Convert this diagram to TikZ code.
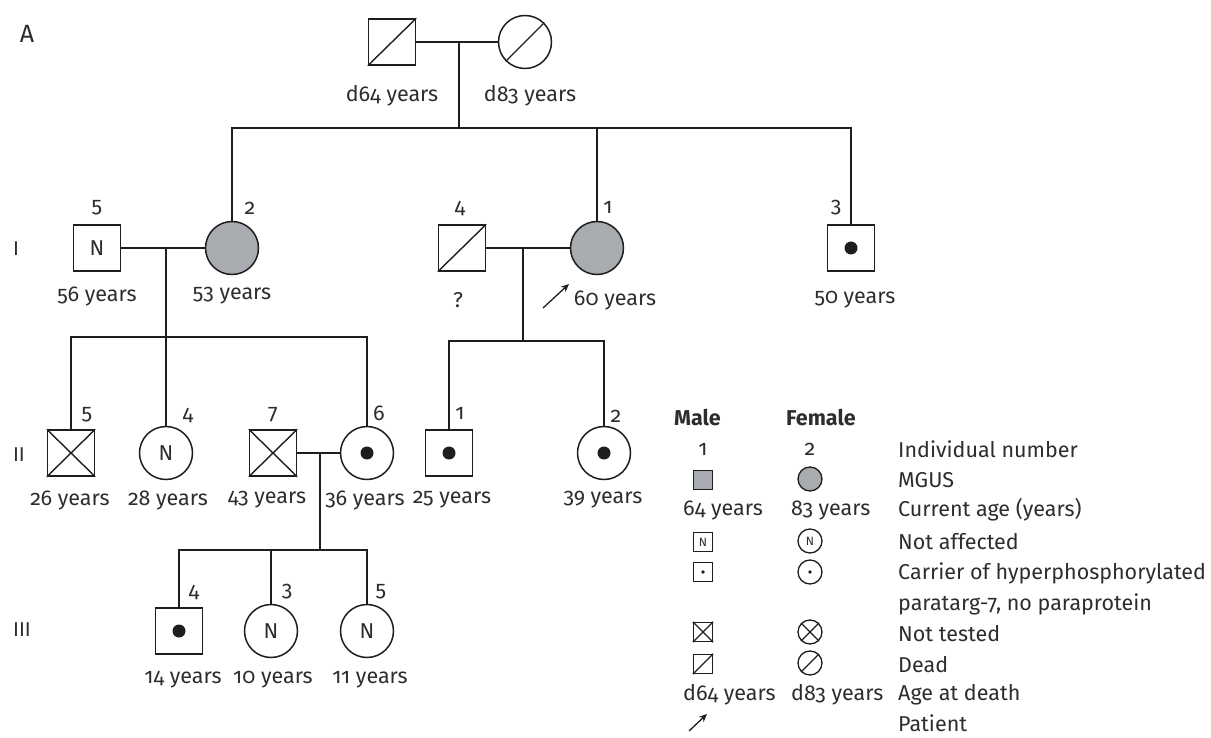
\documentclass[tikz,border=0pt]{standalone}
\usepackage{fontspec}
\setmainfont{Fira Sans}[Numbers=OldStyle]
\usetikzlibrary{arrows.meta}
\definecolor{txt}{RGB}{45,45,45}
\definecolor{ln}{RGB}{30,30,30}
\definecolor{mgus}{RGB}{168,171,175}
\begin{document}
\begin{tikzpicture}[x=1pt,y=-1pt,
  sym/.style={draw=ln, line width=1.5pt, inner sep=0pt, text=txt, font=\fontsize{21.5}{25}\selectfont},
  male/.style={sym, rectangle, minimum width=47pt, minimum height=46pt},
  female/.style={sym, circle, minimum size=53pt},
  affected/.style={fill=mgus},
  lbl/.style={inner sep=0pt, text=txt, font=\fontsize{21.5}{25}\selectfont},
  gen/.style={lbl, font=\fontsize{20}{24}\selectfont},
  conn/.style={draw=ln, line width=1.4pt},
  lsq/.style={draw=ln, line width=1.3pt, rectangle, minimum size=19pt, inner sep=0pt, text=txt, font=\fontsize{12}{14}\selectfont},
  lci/.style={draw=ln, line width=1.3pt, circle, minimum size=24pt, inner sep=0pt, text=txt, font=\fontsize{12}{14}\selectfont},
  leg/.style={lbl, anchor=west},
  patarrow/.style={draw=ln, line width=1.3pt, -{Stealth[length=8pt,width=7pt]}}
]
\useasboundingbox (0,0) rectangle (1211,738);

% panel letter and generation labels
\node[lbl, font=\fontsize{25}{28}\selectfont] (A) at (27,34) {A};
\node[gen] (gI) at (16,249) {I};
\node[gen] (gII) at (19,455) {II};
\node[gen] (gIII) at (22,630) {III};

% ---------------- grandparents
\node[male] (gm) at (392,42) {};
\draw[conn] (gm.south west) -- (gm.north east);
\node[female] (gf) at (525,42) {};
\draw[conn] (gf.south west) -- (gf.north east);
\node[lbl] (gma) at (392,96) {d64 years};
\node[lbl] (gfa) at (530,96) {d83 years};
\coordinate (j0) at (459,42);
\coordinate (s0) at (459,128);
\draw[conn] (gm.east) -- (gf.west);
\draw[conn] (j0) -- (s0);

% ---------------- generation I
\node[male] (I5) at (97,248) {N};
\node[female, affected] (I2) at (232,248) {};
\node[male] (I4) at (462,248) {};
\draw[conn] (I4.south west) -- (I4.north east);
\node[female, affected] (I1) at (597,248) {};
\node[male] (I3) at (851,248) {};
\fill[ln] (I3.center) circle (6.5pt);

\draw[conn] (I2.north) |- (s0) -| (I3.north);
\draw[conn] (I1.north) -- (I1.north |- s0);

\node[lbl] (nI5) at (97,208) {5};
\node[lbl] (nI2) at (250,208) {2};
\node[lbl] (nI4) at (460,208) {4};
\node[lbl] (nI1) at (608,207) {1};
\node[lbl] (nI3) at (836,208) {3};

\node[lbl] (aI5) at (97,296) {56 years};
\node[lbl] (aI2) at (232,296) {53 years};
\node[lbl] (aI4) at (458,300) {?};
\node[lbl] (aI1) at (615,300) {60 years};
\coordinate (pa0) at (543,308);
\coordinate (pa1) at (569,284);
\draw[patarrow] (pa0) -- (pa1);
\node[lbl] (aI3) at (855,300) {50 years};

\coordinate (j1) at (166,248);
\coordinate (s1) at (166,337);
\draw[conn] (I5.east) -- (I2.west);
\draw[conn] (j1) -- (s1);
\coordinate (j2) at (523,248);
\coordinate (s2) at (523,341);
\draw[conn] (I4.east) -- (I1.west);
\draw[conn] (j2) -- (s2);

% ---------------- generation II
\node[male] (II5) at (71,453) {};
\draw[conn] (II5.south west) -- (II5.north east);
\draw[conn] (II5.north west) -- (II5.south east);
\node[female] (II4) at (166,453) {N};
\node[male] (II7) at (273,453) {};
\draw[conn] (II7.south west) -- (II7.north east);
\draw[conn] (II7.north west) -- (II7.south east);
\node[female] (II6) at (367,453) {};
\fill[ln] (II6.center) circle (6.5pt);
\node[male] (II1) at (449,453) {};
\fill[ln] (II1.center) circle (6.5pt);
\node[female] (II2) at (604,453) {};
\fill[ln] (II2.center) circle (6.5pt);

\draw[conn] (II5.north) |- (s1) -| (II6.north);
\draw[conn] (II4.north) -- (II4.north |- s1);
\draw[conn] (II1.north) |- (s2) -| (II2.north);

\node[lbl] (nII5) at (87,415) {5};
\node[lbl] (nII4) at (188,415) {4};
\node[lbl] (nII7) at (273,415) {7};
\node[lbl] (nII6) at (379,413) {6};
\node[lbl] (nII1) at (460,413) {1};
\node[lbl] (nII2) at (616,416) {2};

\node[lbl] (aII5) at (70,500) {26 years};
\node[lbl] (aII4) at (168,500) {28 years};
\node[lbl] (aII7) at (267,500) {43 years};
\node[lbl] (aII6) at (365,500) {36 years};
\node[lbl] (aII1) at (452,500) {25 years};
\node[lbl] (aII2) at (603,500) {39 years};

\coordinate (j3) at (320,453);
\coordinate (s3) at (320,550);
\draw[conn] (II7.east) -- (II6.west);
\draw[conn] (j3) -- (s3);

% ---------------- generation III
\node[male] (III4) at (179,631) {};
\fill[ln] (III4.center) circle (6.5pt);
\node[female] (III3) at (271,631) {N};
\node[female] (III5) at (367,631) {N};

\draw[conn] (III4.north) |- (s3) -| (III5.north);
\draw[conn] (III3.north) -- (III3.north |- s3);

\node[lbl] (nIII4) at (194,592) {4};
\node[lbl] (nIII3) at (287,592) {3};
\node[lbl] (nIII5) at (381,592) {5};

\node[lbl] (aIII4) at (183,680) {14 years};
\node[lbl] (aIII3) at (273,680) {10 years};
\node[lbl] (aIII5) at (370,680) {11 years};

% ---------------- legend
\node[leg, font=\fontsize{21.5}{25}\selectfont\bfseries] (lm) at (674,418) {Male};
\node[leg, font=\fontsize{21.5}{25}\selectfont\bfseries] (lf) at (786,418) {Female};

\node[lbl] (l1m) at (703,449) {1};
\node[lbl] (l1f) at (810,449) {2};
\node[leg] (l1t) at (898,449) {Individual number};

\node[lsq, fill=mgus] (l2m) at (703,480) {};
\node[lci, fill=mgus] (l2f) at (810,479) {};
\node[leg] (l2t) at (898,480) {MGUS};

\node[leg] (l3m) at (683,510) {64 years};
\node[leg] (l3f) at (791,510) {83 years};
\node[leg] (l3t) at (898,510) {Current age (years)};

\node[lsq] (l4m) at (703,542) {N};
\node[lci] (l4f) at (810,541) {N};
\node[leg] (l4t) at (898,542) {Not affected};

\node[lsq] (l5m) at (703,572) {};
\fill[ln] (l5m.center) circle (1.8pt);
\node[lci] (l5f) at (810,572) {};
\fill[ln] (l5f.center) circle (1.8pt);
\node[leg] (l5t) at (898,573) {Carrier of hyperphosphorylated};
\node[leg] (l5u) at (898,604) {paratarg-7, no paraprotein};

\node[lsq] (l6m) at (703,632) {};
\draw[conn, line width=1.2pt] (l6m.south west) -- (l6m.north east);
\draw[conn, line width=1.2pt] (l6m.north west) -- (l6m.south east);
\node[lci] (l6f) at (810,632) {};
\draw[conn, line width=1.2pt] (l6f.south west) -- (l6f.north east);
\draw[conn, line width=1.2pt] (l6f.north west) -- (l6f.south east);
\node[leg] (l6t) at (898,634) {Not tested};

\node[lsq] (l7m) at (703,664) {};
\draw[conn, line width=1.2pt] (l7m.south west) -- (l7m.north east);
\node[lci] (l7f) at (810,663) {};
\draw[conn, line width=1.2pt] (l7f.south west) -- (l7f.north east);
\node[leg] (l7t) at (898,665) {Dead};

\node[leg] (l8m) at (683,695) {d64 years};
\node[leg] (l8f) at (791,695) {d83 years};
\node[leg] (l8t) at (898,695) {Age at death};

\coordinate (lp0) at (689,731);
\coordinate (lp1) at (707,714);
\draw[patarrow] (lp0) -- (lp1);
\node[leg] (l9t) at (898,723) {Patient};
\end{tikzpicture}
\end{document}
